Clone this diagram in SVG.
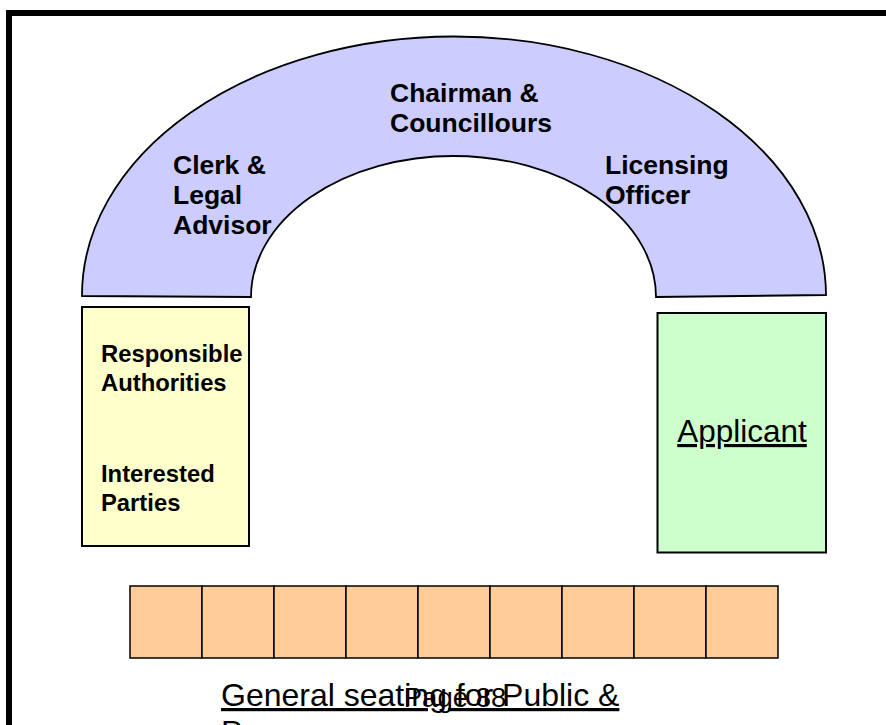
<svg xmlns="http://www.w3.org/2000/svg" width="886" height="725" viewBox="0 0 886 725">
  <style>
    .frame { fill: none; stroke: #000; stroke-width: 6; }
    .shape { stroke: #000; stroke-width: 2; }
    .bench { fill: #CCCCFF; stroke: #000; stroke-width: 1.8; }
    .seat { fill: #FFCC99; stroke: #000; stroke-width: 1.5; }
    .bold { font-family: "Liberation Sans", Arial, sans-serif; font-weight: bold; fill: #000; }
    .plain { font-family: "Liberation Sans", Arial, sans-serif; fill: #000; }
  </style>
  <rect width="886" height="725" fill="#fff"/>
  <!-- page frame -->
  <path class="frame" d="M9,725 V13 H886"/>

  <!-- horseshoe bench -->
  <g id="bench">
    <path class="bench" d="M82,296 A372,259 0 0 1 826,295 L656,297 A202.5,141 0 0 0 251,297 Z"/>
    <text class="bold" font-size="26.5" x="390" y="101.5">Chairman &amp;</text>
    <text class="bold" font-size="26.5" x="390" y="132">Councillours</text>
    <text class="bold" font-size="26.5" x="173" y="173.5">Clerk &amp;</text>
    <text class="bold" font-size="26.5" x="173" y="204">Legal</text>
    <text class="bold" font-size="26.5" x="173" y="234">Advisor</text>
    <text class="bold" font-size="26.5" x="605" y="173.5">Licensing</text>
    <text class="bold" font-size="26.5" x="605" y="204">Officer</text>
  </g>

  <!-- left table -->
  <g id="authorities">
    <rect class="shape" x="82" y="307" width="167" height="239" fill="#FFFFCC"/>
    <text class="bold" font-size="23.8" x="101" y="362">Responsible</text>
    <text class="bold" font-size="23.8" x="101" y="391">Authorities</text>
    <text class="bold" font-size="23.8" x="101" y="482">Interested</text>
    <text class="bold" font-size="23.8" x="101" y="511">Parties</text>
  </g>

  <!-- right table -->
  <g id="applicant">
    <rect class="shape" x="657.5" y="313" width="168.5" height="239.5" fill="#CCFFCC"/>
    <text class="plain" font-size="31.5" x="742" y="442" text-anchor="middle" text-decoration="underline">Applicant</text>
  </g>

  <!-- public seating row -->
  <g id="public-seating">
    <rect class="seat" x="130" y="586" width="72" height="72"/>
    <rect class="seat" x="202" y="586" width="72" height="72"/>
    <rect class="seat" x="274" y="586" width="72" height="72"/>
    <rect class="seat" x="346" y="586" width="72" height="72"/>
    <rect class="seat" x="418" y="586" width="72" height="72"/>
    <rect class="seat" x="490" y="586" width="72" height="72"/>
    <rect class="seat" x="562" y="586" width="72" height="72"/>
    <rect class="seat" x="634" y="586" width="72" height="72"/>
    <rect class="seat" x="706" y="586" width="72" height="72"/>
    <text class="plain" font-size="32" x="221" y="706" text-decoration="underline">General seating for Public &amp;</text>
    <text class="plain" font-size="32" x="221" y="743" text-decoration="underline">Press</text>
  </g>

  <g id="connectors"/>

  <!-- page number -->
  <text class="plain" font-size="27.5" x="455" y="707" text-anchor="middle">Page 88</text>
</svg>
